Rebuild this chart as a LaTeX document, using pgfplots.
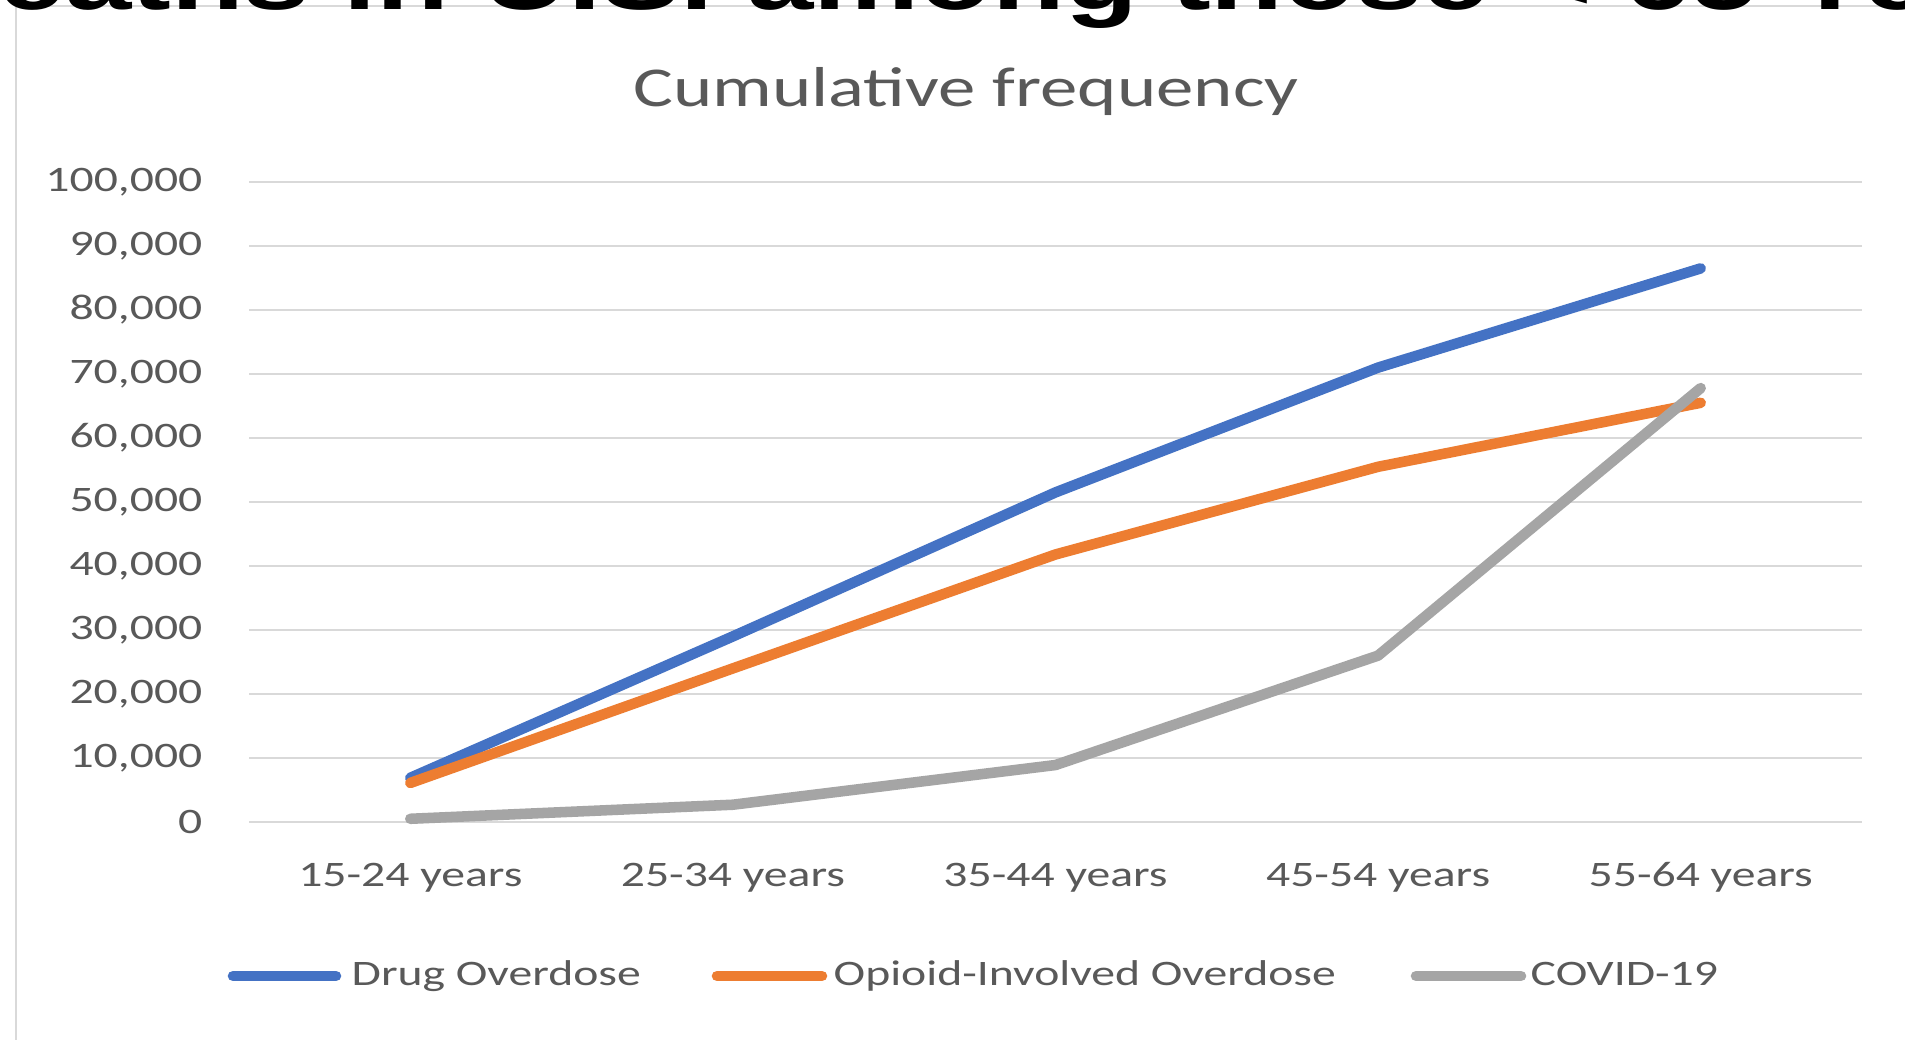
\documentclass[border=0pt]{standalone}
\usepackage{pgfplots}
\pgfplotsset{compat=1.18}
\usepackage{fontspec}
\setmainfont{Carlito}[FakeStretch=1.33]
\newfontfamily\topfont{Liberation Sans}[FakeStretch=1.33]
\definecolor{cblue}{HTML}{4472C4}
\definecolor{corange}{HTML}{ED7D31}
\definecolor{cgray}{HTML}{A5A5A5}
\definecolor{gridc}{HTML}{D9D9D9}
\definecolor{txtc}{HTML}{595959}
\begin{document}
\begin{tikzpicture}[x=1cm,y=1cm]
\useasboundingbox (0,0) rectangle (19.05,10.39);
\clip (0,0) rectangle (19.05,10.39);
\fill[white] (0,0) rectangle (19.05,10.39);
\draw[gridc, line width=0.6pt] (0.16,-0.2) -- (0.16,10.33) -- (19.3,10.33);
\node[anchor=base west, inner sep=0pt, font=\topfont\bfseries\fontsize{25.5}{26}\selectfont] at (-0.88,10.29) {Deaths in U.S. among those < 65 Years};
\node[anchor=base, inner sep=0pt, text=txtc, font=\fontsize{16}{18}\selectfont] at (9.66,9.32) {Cumulative frequency};
\begin{axis}[
  at={(2.49cm,2.17cm)}, anchor=south west,
  width=16.13cm, height=6.40cm, scale only axis,
  xmin=-0.5, xmax=4.5, ymin=0, ymax=100000,
  xtick={0,1,2,3,4},
  xticklabels={15-24 years,25-34 years,35-44 years,45-54 years,55-64 years},
  ytick={0,10000,20000,30000,40000,50000,60000,70000,80000,90000,100000},
  scaled y ticks=false,
  ymajorgrids, grid style={gridc, line width=0.45pt},
  axis line style={draw=none},
  major tick length=0pt,
  tick label style={font=\fontsize{10.2}{12}\selectfont, text=txtc},
  /pgf/number format/.cd, fixed, 1000 sep={,}, assume math mode=true,
  /pgfplots/.cd,
  yticklabel style={anchor=east, inner sep=0pt, xshift=-0.46cm},
  xticklabel style={anchor=base, inner sep=0pt, yshift=-0.65cm},
  clip=false,
]
\addplot[cblue, line width=3pt, line join=round, line cap=round] coordinates {(0,6900) (1,29000) (2,51500) (3,71000) (4,86500)};
\addplot[corange, line width=3pt, line join=round, line cap=round] coordinates {(0,6100) (1,24000) (2,41800) (3,55500) (4,65500)};
\addplot[cgray, line width=3pt, line join=round, line cap=round] coordinates {(0,500) (1,2700) (2,8900) (3,26000) (4,67800)};
\end{axis}
\begin{scope}[every node/.style={anchor=base west, inner sep=0pt, text=txtc, font=\fontsize{10.2}{12}\selectfont}]
\draw[cblue, line width=3pt, line cap=round] (2.33,0.63) -- (3.36,0.63);
\node at (3.51,0.53) {Drug Overdose};
\draw[corange, line width=3pt, line cap=round] (7.17,0.63) -- (8.22,0.63);
\node at (8.33,0.53) {Opioid-Involved Overdose};
\draw[cgray, line width=3pt, line cap=round] (14.16,0.63) -- (15.21,0.63);
\node at (15.30,0.53) {COVID-19};
\end{scope}
\end{tikzpicture}
\end{document}
